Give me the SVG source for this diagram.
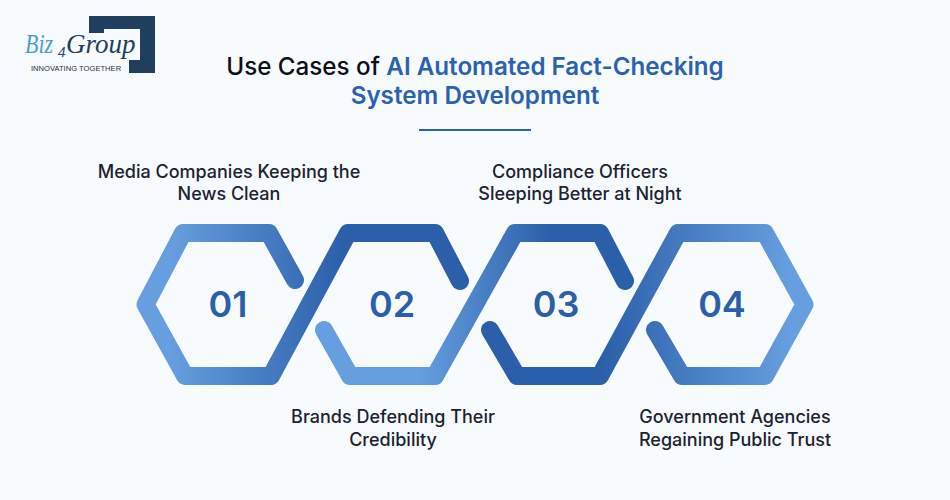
<svg xmlns="http://www.w3.org/2000/svg" width="950" height="500" viewBox="0 0 950 500">
<style>
.t{font-family:Inter,"Noto Sans",sans-serif;font-size:24.2px;font-weight:500;fill:#0c0f16;text-anchor:middle}
.b{fill:#2a62ad;font-weight:600}
.l{font-family:Inter,"Noto Sans",sans-serif;font-size:18px;font-weight:500;fill:#1c2230;text-anchor:middle}
.n{font-family:Inter,"Noto Sans",sans-serif;font-size:36px;font-weight:600;fill:#2a5fa9;text-anchor:middle}
.s{fill:none;stroke-width:18;stroke-linecap:round;stroke-linejoin:round}
</style>
<defs>
<linearGradient id="g1" gradientUnits="userSpaceOnUse" x1="170" y1="0" x2="345" y2="0"><stop offset="0" stop-color="#659fdf"/><stop offset="1" stop-color="#2a5fa9"/></linearGradient>
<linearGradient id="g2" gradientUnits="userSpaceOnUse" x1="420" y1="0" x2="550" y2="0"><stop offset="0" stop-color="#659fdf"/><stop offset="1" stop-color="#2a5fa9"/></linearGradient>
<linearGradient id="g3" gradientUnits="userSpaceOnUse" x1="600" y1="0" x2="790" y2="0"><stop offset="0" stop-color="#2a5fa9"/><stop offset="1" stop-color="#659fdf"/></linearGradient>
</defs>
<rect width="950" height="500" fill="#f8fbfe"/>
<g id="logo">
<path d="M89 16H155V73H129V60H140V29H104V33H89Z" fill="#203f5f"/>
<text x="25" y="53" font-family="Liberation Serif,serif" font-style="italic" font-size="27" fill="#4a9bdc" textLength="28" lengthAdjust="spacingAndGlyphs">Biz</text>
<text x="58" y="57" font-family="Liberation Serif,serif" font-style="italic" font-size="15" fill="#203f5f">4</text>
<text x="66" y="53" font-family="Liberation Serif,serif" font-style="italic" font-size="27" fill="#203f5f">Group</text>
<text x="31" y="71" font-family="Liberation Sans,sans-serif" font-size="7.6" fill="#2a2f3a">INNOVATING TOGETHER</text>
</g>
<g id="title">
<text class="t" x="475" y="75">Use Cases of <tspan class="b">AI Automated Fact-Checking</tspan></text>
<text class="t b" x="475" y="104">System Development</text>
<rect x="419" y="129" width="112" height="2" fill="#2a62ad"/>
</g>
<g id="connectors">
<path class="s" stroke="url(#g1)" d="M295 280L269 233H183L145.500 304.500L185 376H271L348 233H435L460 281"/>
<path class="s" stroke="url(#g2)" d="M324 330L350 376H435L515 233H600L625 281"/>
<path class="s" stroke="url(#g3)" d="M490 330L517 376H600L678 233H765L804.500 304.500L765 376H682L655 330"/>
</g>
<g id="node-01"><text class="n" x="228" y="317">01</text><text class="l" x="229" y="178">Media Companies Keeping the</text><text class="l" x="229" y="200">News Clean</text></g>
<g id="node-02"><text class="n" x="392" y="317">02</text><text class="l" x="393" y="423">Brands Defending Their</text><text class="l" x="393" y="446">Credibility</text></g>
<g id="node-03"><text class="n" x="556" y="317">03</text><text class="l" x="580" y="178">Compliance Officers</text><text class="l" x="580" y="200">Sleeping Better at Night</text></g>
<g id="node-04"><text class="n" x="722" y="317">04</text><text class="l" x="735" y="423">Government Agencies</text><text class="l" x="735" y="446">Regaining Public Trust</text></g>
</svg>
